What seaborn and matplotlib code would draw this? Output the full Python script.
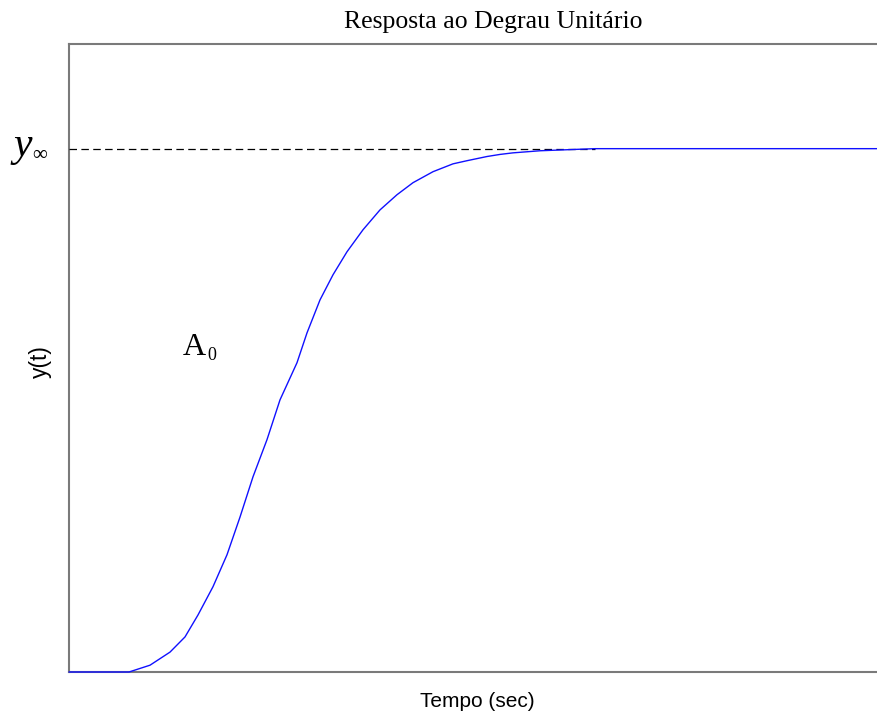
import matplotlib
matplotlib.use("Agg")
import matplotlib.pyplot as plt
import seaborn as sns
import pandas as pd

# Step response samples (time in seconds, normalised output)
tempo = [0.0, 1.2, 1.62, 2.02, 2.32, 2.58, 2.88, 3.16, 3.42, 3.68, 3.96,
         4.22, 4.56, 4.76, 5.02, 5.28, 5.56, 5.88, 6.22, 6.56, 6.88,
         7.28, 7.68, 7.96, 8.36, 8.62, 8.88, 9.42, 10.52, 16.2]
resposta = [0.0, 0.0, 0.013, 0.038, 0.067, 0.109, 0.163, 0.224, 0.296, 0.373,
            0.444, 0.520, 0.591, 0.648, 0.711, 0.759, 0.803, 0.845, 0.883,
            0.912, 0.935, 0.956, 0.971, 0.977, 0.985, 0.989, 0.992,
            0.996, 1.0, 1.0]
y_final = 1.0
t_final = 10.52

titulo = "Resposta ao Degrau Unitário"
rotulo_x = "Tempo (sec)"
rotulo_y = "y(t)"

sns.set_style("white")
plt.rcParams["font.family"] = ["Liberation Sans", "DejaVu Sans"]
plt.rcParams["text.color"] = "black"

W, H = 878, 716
fig = plt.figure(figsize=(W / 100, H / 100), dpi=100)
ax = fig.add_axes([69 / W, (H - 672) / H, (W - 69) / W, (672 - 44) / H])

df = pd.DataFrame({"t": tempo, "y": resposta})
sns.lineplot(data=df, x="t", y="y", ax=ax, color="#1010ff", linewidth=1.0,
             sort=False, estimator=None, zorder=5, clip_on=False)

# Final value reference line
ax.plot([0, t_final], [y_final, y_final], color="black", linewidth=0.9,
        dashes=(6, 3.5), zorder=4)

ax.set_xlim(0, 16.18)
ax.set_ylim(0, 1.2)
ax.set_xticks([])
ax.set_yticks([])
ax.set_xlabel("")
ax.set_ylabel("")
for side in ["left", "bottom", "top"]:
    ax.spines[side].set_color("#7a7a7a")
    ax.spines[side].set_linewidth(1.5)
    ax.spines[side].set_zorder(1)
ax.spines["right"].set_visible(False)

serif = ["Liberation Serif", "DejaVu Serif"]
fig.text(493 / W, (H - 28) / H, titulo, family=serif, fontsize=18.5,
         ha="center", va="baseline", color="black")
fig.text(477 / W, (H - 707) / H, rotulo_x, fontsize=15, ha="center",
         va="baseline", color="black")
fig.text(40 / W, (H - 362) / H, rotulo_y, fontsize=16.5, ha="center",
         va="center", rotation=90, color="black")

# y-infinity marker at the left of the axis
fig.text(13 / W, (H - 156) / H, "y", family=serif, style="italic",
         fontsize=30, ha="left", va="baseline", color="black")
fig.text(32 / W, (H - 160) / H, "\u221e", family=serif, fontsize=15,
         ha="left", va="baseline", color="black")

# Area label
fig.text(183 / W, (H - 355) / H, "A", family=serif, fontsize=23,
         ha="left", va="baseline", color="black")
fig.text(207 / W, (H - 360) / H, "0", family=serif, fontsize=13,
         ha="left", va="baseline", color="black")

fig.savefig("out.png", dpi=100)
